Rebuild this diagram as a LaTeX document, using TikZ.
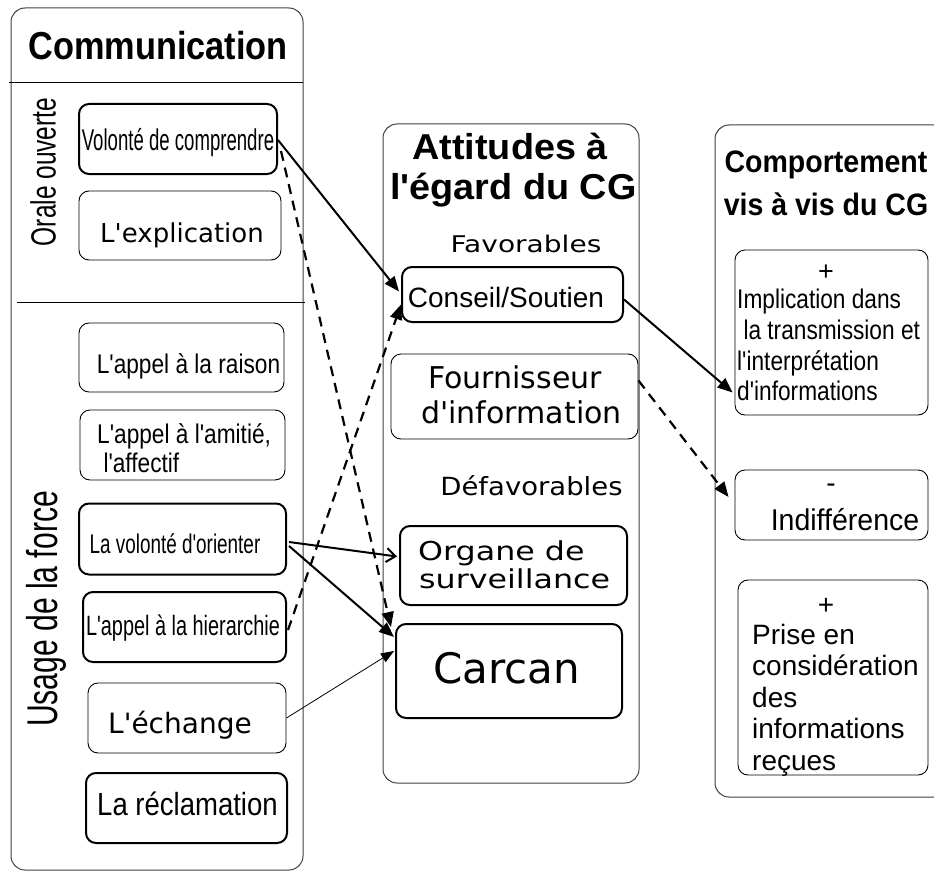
\documentclass[tikz,border=0pt]{standalone}
\usepackage{fontspec}
\setmainfont{Liberation Sans}[Ligatures=TeXOff]
\newfontfamily\dv{DejaVu Sans}[Ligatures=TeXOff]
\usetikzlibrary{arrows.meta,calc}
\newcommand\fs[2]{\fontsize{#1}{#2}\selectfont}
\newcommand\hsc[2]{\scalebox{#1}[1]{#2}}
\begin{document}
\begin{tikzpicture}[x=1pt,y=-1pt,
  panel/.style={draw=black!75, line width=1pt, rounded corners=14pt, inner sep=0pt},
  thinbox/.style={draw, line width=0.9pt, rounded corners=10pt, inner sep=0pt},
  thickbox/.style={draw, line width=2pt, rounded corners=10pt, inner sep=0pt},
  txt/.style={inner sep=0pt, anchor=base},
  ltxt/.style={inner sep=0pt, anchor=base west},
  conn/.style={line width=2pt, -{Triangle[length=15pt,width=12pt]}},
  dconn/.style={conn, line width=2.2pt, dash pattern=on 10pt off 7pt},
  bconn/.style={line width=2pt, -{Straight Barb[length=9pt,width=14pt,line width=2pt]}},
  fconn/.style={line width=0.8pt, -{Triangle[length=13pt,width=10pt]}}
]
\useasboundingbox (0,0) rectangle (934,872);
% panels
\node[panel, minimum width=292pt, minimum height=862pt] (pL) at (157,439) {};
\node[panel, minimum width=256pt, minimum height=659pt] (pM) at (511,453.5) {};
\node[panel, minimum width=240pt, minimum height=672pt] (pR) at (835,461) {};
\draw[line width=0.9pt] (9,82) -- (303,82);
\draw[line width=0.9pt] (17,302) -- (305,302);

% left panel titles
\node[txt] (tcom) at (158,60) {\hsc{0.88}{\fs{39}{40}\bfseries Communication}};
\node[inner sep=0pt, rotate=90] (tora) at (43,172) {\hsc{0.70}{\fs{35}{36}Orale ouverte}};
\node[inner sep=0pt, rotate=90] (tusa) at (46,609) {\hsc{0.70}{\fs{43}{44}Usage de la force}};

% left boxes
\node[thickbox, minimum width=198pt, minimum height=70pt] (b1) at (178,139) {};
\node[thinbox, minimum width=202pt, minimum height=69pt] (b2) at (180,225.5) {};
\node[thinbox, minimum width=205pt, minimum height=69pt] (b3) at (181.5,357.5) {};
\node[thinbox, minimum width=205pt, minimum height=70pt] (b4) at (182.5,445) {};
\node[thickbox, minimum width=207pt, minimum height=71pt] (b5) at (182.5,539) {};
\node[thickbox, minimum width=203pt, minimum height=70pt] (b6) at (184.5,627) {};
\node[thinbox, minimum width=198pt, minimum height=70pt] (b7) at (187,718) {};
\node[thickbox, minimum width=201pt, minimum height=70pt] (b8) at (186.5,808) {};

\node[txt] (tb1) at (178,150) {\hsc{0.62}{\fs{30}{30}Volonté de comprendre}};
\node[txt] (tb2) at (182,242) {\dv\fs{26}{28}L'explication};
\node[txt] (tb3) at (188.5,373) {\hsc{0.84}{\fs{27}{29}L'appel à la raison}};
\node[ltxt] (tb4) at (97,443) {\hsc{0.84}{\fs{27}{29}\begin{tabular}[t]{@{}l@{}}L'appel à l'amitié,\\ \ l'affectif\end{tabular}}};
\node[txt] (tb5) at (175,553) {\hsc{0.70}{\fs{27}{27}La volonté d'orienter}};
\node[txt] (tb6) at (183,635) {\hsc{0.71}{\fs{28}{28}L'appel à la hierarchie}};
\node[txt] (tb7) at (180,733) {\dv\fs{28}{30}L'échange};
\node[txt] (tb8) at (187.5,815) {\hsc{0.86}{\fs{32}{34}La réclamation}};

% middle panel
\node[txt] (tatt1) at (510,160) {\hsc{1.05}{\fs{36}{38}\bfseries Attitudes à}};
\node[txt] (tatt2) at (513.5,199) {\hsc{1.05}{\fs{36}{38}\bfseries l'égard du CG}};
\node[txt] (tfav) at (526,252) {\hsc{1.22}{\dv\fs{23}{25}Favorables}};
\node[txt] (tdef) at (531.5,495) {\hsc{1.1}{\dv\fs{25}{27}Défavorables}};

\node[thickbox, minimum width=221pt, minimum height=55pt] (cs) at (512.5,294.5) {};
\node[thinbox, minimum width=247pt, minimum height=85pt] (fo) at (514.5,396.5) {};
\node[thickbox, minimum width=227pt, minimum height=79pt] (org) at (513.5,565.5) {};
\node[thickbox, minimum width=226pt, minimum height=94pt] (car) at (509,671) {};

\node[txt] (tcs) at (506,307) {\fs{28}{30}Conseil/Soutien};
\node[txt] (tfo1) at (515,388) {\dv\fs{30}{32}Fournisseur};
\node[txt] (tfo2) at (521.5,423) {\dv\fs{30}{32}d'information};
\node[ltxt] (torg1) at (418,560) {\hsc{1.22}{\dv\fs{26}{28}Organe de}};
\node[ltxt] (torg2) at (419,588) {\hsc{1.22}{\dv\fs{26}{28}surveillance}};
\node[txt] (tcar) at (506.5,683) {\dv\fs{42}{44}Carcan};

% right panel
\node[txt] (tcomp1) at (826,172) {\hsc{0.92}{\fs{31}{32}\bfseries Comportement}};
\node[txt] (tcomp2) at (826,215) {\hsc{0.92}{\fs{31}{32}\bfseries vis à vis du CG}};

\node[thinbox, minimum width=193pt, minimum height=165pt] (r1) at (831.5,332.5) {};
\node[thinbox, minimum width=193pt, minimum height=70pt] (r2) at (831.5,505) {};
\node[thinbox, minimum width=190pt, minimum height=195pt] (r3) at (833,677.5) {};

\node[txt] (tr1p) at (826,280) {\fs{27}{29}+};
\node[ltxt] (tr1a) at (737,308) {\hsc{0.84}{\fs{27}{29}Implication dans}};
\node[ltxt] (tr1b) at (737,339) {\hsc{0.84}{\fs{27}{29}\ la transmission et}};
\node[ltxt] (tr1c) at (737,370) {\hsc{0.84}{\fs{27}{29}l'interprétation}};
\node[ltxt] (tr1d) at (737,400) {\hsc{0.84}{\fs{27}{29}d'informations}};

\node[txt] (tr2m) at (831,492) {\fs{28}{30}-};
\node[txt] (tr2) at (845,530) {\hsc{0.95}{\fs{30}{32}Indifférence}};

\node[txt] (tr3p) at (826,614) {\fs{28}{30}+};
\node[ltxt] (tr3a) at (752,644) {\fs{28}{30}Prise en};
\node[ltxt] (tr3b) at (752,675.5) {\fs{28}{30}considération};
\node[ltxt] (tr3c) at (752,707) {\fs{28}{30}des};
\node[ltxt] (tr3d) at (752,738.5) {\fs{28}{30}informations};
\node[ltxt] (tr3e) at (752,770) {\fs{28}{30}reçues};

% connectors
\draw[conn] ($(b1.east)+(0,1)$) -- ($(cs.west)+(-2,-3)$);
\draw[dconn] ($(b1.east)+(3,12)$) -- ($(car.north west)+(-4,4)$);
\draw[dconn] ($(b6.east)+(1,3)$) -- ($(cs.west)+(0,10)$);
\draw[bconn] ($(b5.east)+(2,3)$) -- ($(org.west)+(-2,-9)$);
\draw[conn] ($(b5.east)+(2,7)$) -- ($(car.north west)+(-1,14)$);
\draw[fconn] (b7.east) -- ($(car.north west)+(-1,28)$);
\draw[conn] ($(cs.east)+(0,5)$) -- ($(r1.west)+(-2,60)$);
\draw[dconn] ($(fo.east)+(0,-16)$) -- ($(r2.west)+(-6,-8)$);
\end{tikzpicture}
\end{document}
